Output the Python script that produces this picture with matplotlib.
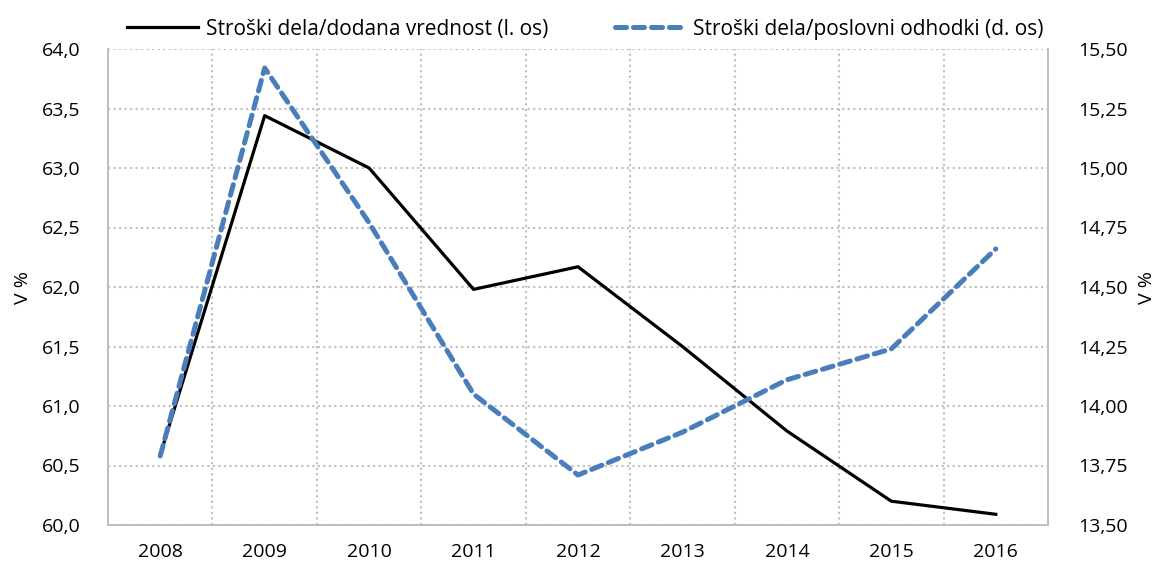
import numpy as np
import matplotlib.pyplot as plt
from matplotlib.ticker import FuncFormatter, MultipleLocator, FixedLocator

plt.rcParams['font.family'] = ['Open Sans', 'DejaVu Sans']

# data
years = ['2008', '2009', '2010', '2011', '2012', '2013', '2014', '2015', '2016']
stroski_dv = [60.59, 63.44, 63.0, 61.98, 62.17, 61.5, 60.79, 60.2, 60.09]
stroski_po = [13.79, 15.42, 14.77, 14.05, 13.71, 13.89, 14.11, 14.24, 14.66]

x = np.arange(len(years))
grid_col = '#BFBFBF'
blue = '#4A7EBB'

fig = plt.figure(figsize=(11.59, 5.66), dpi=100)
ax = fig.add_axes([108 / 1159, 1 - 525 / 566, 940 / 1159, 476 / 566])
ax2 = ax.twinx()

l1, = ax.plot(x, stroski_dv, color='black', lw=2.3,
              label='Stroški dela/dodana vrednost (l. os)')
l2, = ax2.plot(x, stroski_po, color=blue, lw=3.6, linestyle=(0, (2.2, 1.4)),
               dash_capstyle='round', label='Stroški dela/poslovni odhodki (d. os)')

ax.set_xlim(-0.5, len(years) - 0.5)
ax.set_ylim(60, 64)
ax2.set_ylim(13.5, 15.5)
ax.yaxis.set_major_locator(MultipleLocator(0.5))
ax2.yaxis.set_major_locator(MultipleLocator(0.25))
ax.yaxis.set_major_formatter(FuncFormatter(lambda v, p: f'{v:.1f}'.replace('.', ',')))
ax2.yaxis.set_major_formatter(FuncFormatter(lambda v, p: f'{v:.2f}'.replace('.', ',')))

ax.set_xticks(x)
ax.set_xticklabels(years)
ax.xaxis.set_minor_locator(FixedLocator(x[:-1] + 0.5))

ax.grid(True, axis='y', which='major', color=grid_col, linestyle=':', lw=1.5)
ax.grid(True, axis='x', which='minor', color=grid_col, linestyle=':', lw=1.5)
ax.set_axisbelow(True)

for a in (ax, ax2):
    a.tick_params(which='both', length=0, labelsize=14, colors='black')
    for s in a.spines.values():
        s.set_color(grid_col)
        s.set_linewidth(1.3)
    a.spines['top'].set_visible(False)
ax.tick_params(axis='y', pad=20)
ax2.tick_params(axis='y', pad=22)
ax.tick_params(axis='x', pad=13)

ax.set_ylabel('V %', fontsize=14, labelpad=7)
ax2.set_ylabel('V %', fontsize=14, rotation=90, labelpad=7)

fig.legend(handles=[l1, l2], loc='upper center', bbox_to_anchor=(0.505, 1.0),
           ncol=2, frameon=False, fontsize=15, handlelength=3.4,
           handletextpad=0.35, columnspacing=3.2)

fig.savefig('out.png', dpi=100)
